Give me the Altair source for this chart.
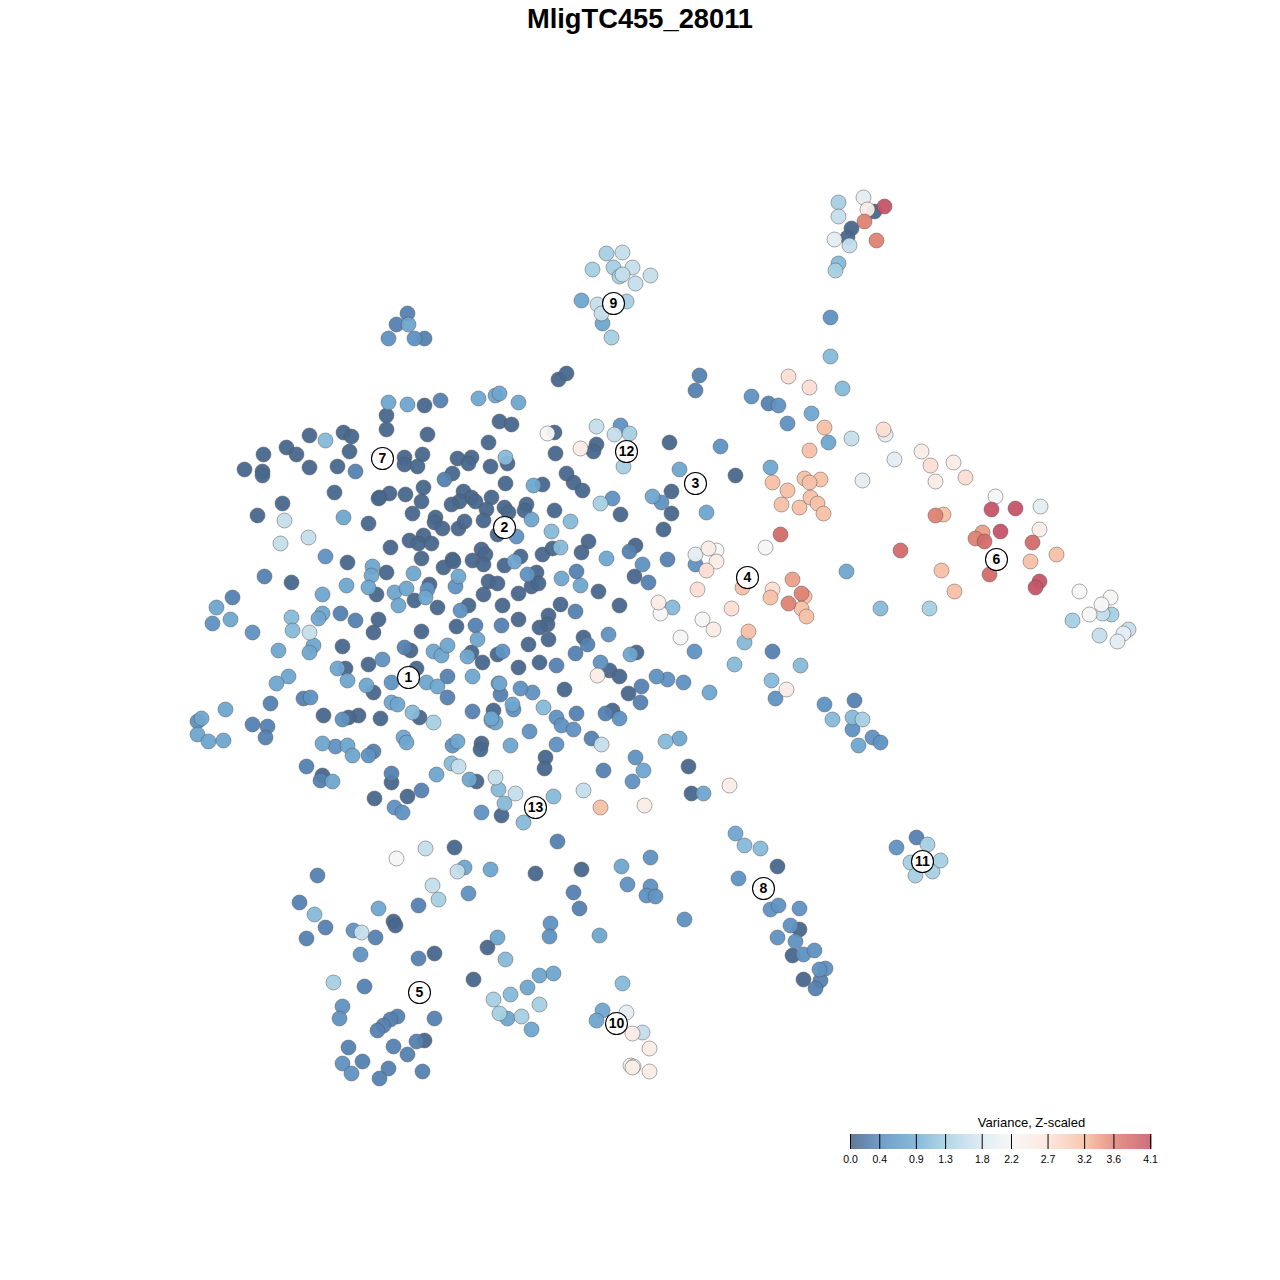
import altair as alt
import numpy as np
import pandas as pd

TITLE = "MligTC455_28011"
LEGEND_TITLE = "Variance, Z-scaled"
legend_ticks = [0.0, 0.4, 0.9, 1.3, 1.8, 2.2, 2.7, 3.2, 3.6, 4.1]
legend_colors = ["#456387", "#5a8cbe", "#74add3", "#a6cfe3", "#dbe9f2",
                 "#f6f6f6", "#fde3d8", "#f6bda2", "#df8374", "#c55567"]

v_005 = [(386,415),(386,429),(424,405),(427,434),(309,435),(343,432),(351,436),(263,454),(286,447),(296,454),
 (349,451),(404,457),(404,464),(422,454),(417,466),(457,458),(471,457),(468,463),(490,466),(244,469),
 (262,471),(262,475),(309,467),(337,466),(452,473),(488,442),(499,421),(511,424),(334,492),(389,493),
 (379,497),(378,498),(405,494),(423,487),(421,501),(463,491),(471,497),(459,501),(451,504),(475,501),
 (491,497),(486,509),(282,503),(257,515),(368,523),(412,513),(435,517),(434,522),(442,528),(458,528),
 (464,521),(483,520),(390,547),(409,540),(423,535),(418,543),(431,543),(421,558),(347,562),(386,572),
 (443,567),(452,559),(453,561),(472,560),(481,549),(485,554),(483,564),(291,582),(376,594),(429,584),
 (414,600),(488,581),(497,583),(483,594),(437,607),(468,605),(378,619),(373,632),(421,631),(456,626),
 (342,646),(410,650),(471,652),(482,662),(497,654),(368,664),(345,668),(416,668),(373,692),(323,715),
 (358,715),(348,717),(380,718),(419,717),(493,710),(481,743),(480,749),(322,775),(391,782),(476,781),
 (407,796),(374,798),(501,815),(505,483),(542,484),(573,482),(582,490),(504,507),(508,512),(526,504),
 (524,510),(554,510),(620,514),(671,491),(671,513),(663,529),(497,534),(520,556),(504,565),(542,554),
 (552,548),(588,541),(581,552),(635,545),(634,576),(502,605),(518,593),(536,572),(531,586),(538,583),
 (598,591),(560,604),(619,605),(548,615),(547,624),(539,627),(518,619),(548,639),(528,644),(583,637),
 (636,652),(518,667),(539,662),(609,670),(619,676),(564,689),(612,710),(558,379),(566,373),(555,453),
 (596,444),(593,451),(669,442),(507,463),(566,473),(735,475),(545,757),(544,768),(688,766),(691,793),
 (454,847),(535,873),(581,869),(393,921),(395,925),(487,947),(434,953),(424,1040),(777,866),(799,929),
 (792,955),(803,979),(851,228),(847,237),(874,211),(628,693),(473,979),(554,432)]
v_030 = [(440,400),(355,471),(444,479),(264,576),(232,597),(340,613),(355,620),(475,625),(501,625),(404,647),
 (447,676),(447,697),(270,703),(303,698),(472,711),(252,724),(267,726),(265,737),(306,766),(320,780),
 (391,773),(373,751),(421,790),(629,551),(667,559),(648,582),(576,571),(575,611),(587,644),(575,653),
 (556,665),(500,694),(641,686),(640,702),(576,713),(605,713),(591,738),(603,770),(699,375),(695,390),
 (768,403),(772,651),(557,841),(317,875),(573,892),(299,902),(418,905),(579,908),(325,927),(375,937),
 (306,938),(418,958),(364,986),(397,1016),(390,1019),(383,1025),(377,1030),(434,1018),(348,1047),(393,1046),
 (416,1041),(407,1054),(362,1061),(388,1068),(379,1078),(422,1071),(407,313),(396,324),(424,338),(820,980),
 (815,988),(916,837),(854,700)]
v_050 = [(325,556),(455,586),(427,589),(460,610),(212,623),(252,632),(382,659),(502,651),(391,682),(310,697),
 (342,719),(197,721),(335,746),(368,755),(452,745),(394,807),(402,812),(481,812),(612,498),(661,502),
 (516,536),(642,564),(527,574),(532,692),(520,688),(513,709),(556,717),(561,725),(573,729),(619,718),
 (529,731),(556,744),(635,757),(632,781),(751,396),(778,405),(787,423),(720,446),(620,425),(694,651),
 (683,682),(667,679),(656,676),(775,698),(468,893),(353,930),(360,954),(550,923),(549,936),(342,1006),
 (339,1018),(342,1063),(351,1073),(830,317),(388,338),(414,338),(738,878),(650,857),(627,884),(650,886),
 (646,895),(655,896),(684,919),(770,909),(778,905),(799,908),(790,925),(777,937),(795,941),(803,954),
 (814,950),(825,968),(819,969),(896,847),(824,704),(852,729),(872,737),(880,742),(608,634),(600,662),
 (695,564)]
v_080 = [(388,402),(407,404),(478,398),(495,395),(499,393),(518,402),(343,517),(372,566),(371,575),(413,573),
 (346,585),(368,587),(394,592),(406,588),(398,605),(425,597),(458,576),(322,594),(216,607),(230,619),
 (322,613),(318,618),(477,639),(278,650),(313,645),(309,652),(433,651),(441,655),(447,645),(467,656),
 (337,668),(288,676),(276,683),(347,680),(366,685),(426,682),(437,686),(472,676),(498,683),(391,702),
 (397,704),(225,709),(491,720),(495,722),(201,718),(197,734),(208,741),(223,740),(322,743),(347,745),
 (352,755),(403,737),(406,742),(457,741),(332,781),(436,774),(469,779),(533,485),(531,519),(652,496),
 (606,558),(514,561),(561,578),(580,585),(630,654),(499,683),(512,704),(491,718),(510,745),(679,738),
 (643,770),(703,793),(581,300),(602,323),(679,469),(770,467),(706,512),(811,413),(828,442),(846,571),
 (709,692),(464,867),(490,869),(378,908),(599,935),(497,937),(539,975),(553,973),(527,987),(507,1018),
 (531,1029),(602,1010),(596,1020),(621,866),(735,833),(408,324),(858,745)]
v_105 = [(325,440),(291,617),(292,630),(412,712),(451,763),(498,789),(505,457),(570,521),(551,531),(560,547),
 (543,707),(665,741),(504,803),(523,822),(553,796),(672,607),(744,642),(734,664),(800,665),(771,680),
 (880,608),(314,914),(505,959),(510,994),(622,983),(838,263),(830,356),(842,388),(744,845),(760,848),
 (832,719),(852,717)]
v_130 = [(433,722),(600,503),(623,466),(629,433),(333,982),(493,999),(499,1013),(521,1016),(539,1004),(592,269),
 (606,253),(613,267),(619,276),(611,337),(838,202),(835,270),(1072,620),(1111,614),(862,719),(910,862),
 (932,871),(915,875),(929,608),(438,899),(626,301),(927,844),(940,860)]
v_160 = [(284,520),(308,537),(280,543),(309,632),(458,766),(495,777),(515,793),(596,426),(614,434),(601,744),
 (583,790),(851,438),(425,848),(457,871),(432,885),(361,932),(622,252),(632,267),(650,275),(622,274),
 (635,283),(597,304),(601,313),(838,216),(849,245),(642,1032),(1128,629),(1102,613),(1099,635)]
v_195 = [(695,554),(885,434),(894,459),(862,480),(1040,506),(863,197),(834,239),(1123,633),(1117,641),(626,1012)]
v_220 = [(547,433),(660,613),(702,619),(680,637),(765,547),(396,858),(995,496),(1079,591),(1110,597),(1101,604),
 (1089,614),(716,550),(630,1065),(633,1066)]
v_245 = [(580,448),(708,548),(658,602),(713,629),(597,675),(786,689),(729,785),(644,805),(921,451),(953,462),
 (935,481),(1039,529),(867,209),(632,1033),(649,1048),(632,1067),(649,1071),(716,561)]
v_275 = [(788,376),(809,387),(706,570),(697,589),(772,589),(731,608),(883,429),(930,465),(965,477)]
v_315 = [(772,482),(787,490),(742,587),(770,597),(748,631),(600,807),(824,427),(809,450),(804,478),(820,479),
 (809,482),(781,504),(799,507),(810,497),(817,503),(823,513),(943,514),(1056,554),(1030,561),(941,570),
 (954,591),(804,596),(801,608),(806,616)]
v_340 = [(792,579),(982,532)]
v_360 = [(801,593),(788,603),(935,515),(975,538),(876,240),(864,221)]
v_385 = [(780,534),(900,550),(1032,542),(989,574),(984,541)]
v_410 = [(991,509),(1015,508),(1000,531),(1039,581),(1035,587),(884,206)]

levels = [(0.05, v_005), (0.3, v_030), (0.5, v_050), (0.8, v_080), (1.05, v_105), (1.3, v_130),
          (1.6, v_160), (1.95, v_195), (2.2, v_220), (2.45, v_245), (2.75, v_275), (3.15, v_315),
          (3.4, v_340), (3.6, v_360), (3.85, v_385), (4.1, v_410)]

cluster_ids = ["1","2","3","4","5","6","7","8","9","10","11","12","13"]
cluster_x = [408,504,695,747,419,996,382,763,613,616,922,626,535]
cluster_y = [677,527,483,577,992,559,458,888,303,1023,861,451,807]

points = pd.DataFrame([{"x": p[0], "y": p[1], "value": v} for v, pts in levels for p in pts])
clusters = pd.DataFrame({"x": cluster_x, "y": cluster_y, "label": cluster_ids})

X0, X1 = 850.0, 1150.0
scale_x = alt.Scale(domain=[7.5, 1271.5], nice=False, zero=False)
scale_y = alt.Scale(domain=[1271.5, 47.5], nice=False, zero=False)
color_scale = alt.Scale(domain=legend_ticks, range=legend_colors, clamp=True)
ax = dict(axis=None, scale=scale_x)
ay = dict(axis=None, scale=scale_y)

pts_layer = alt.Chart(points).mark_point(filled=True, size=225, opacity=0.95, stroke="#555555",
                                         strokeWidth=0.8, strokeOpacity=0.65).encode(
    x=alt.X("x:Q", **ax), y=alt.Y("y:Q", **ay),
    color=alt.Color("value:Q", scale=color_scale, legend=None),
    order=alt.Order("idx:Q"),
).transform_window(idx="row_number()")

circle_layer = alt.Chart(clusters).mark_point(filled=True, size=484, fill="white", stroke="black",
                                              strokeWidth=1.1, opacity=1).encode(
    x=alt.X("x:Q", **ax), y=alt.Y("y:Q", **ay))
text_layer = alt.Chart(clusters).mark_text(font="Liberation Sans", fontWeight="bold", fontSize=14,
                                           color="black", baseline="middle", align="center").encode(
    x=alt.X("x:Q", **ax), y=alt.Y("y:Q", **ay), text="label:N")

# Colour key, drawn through the same colour scale.
ramp_values = np.linspace(0, 4.1, 301)
ramp = pd.DataFrame({"value": ramp_values,
                     "x": X0 + ramp_values / 4.1 * (X1 - X0),
                     "x2": X0 + ramp_values / 4.1 * (X1 - X0) + 1.2,
                     "y": 1133.5, "y2": 1148.5})
ramp_layer = alt.Chart(ramp).mark_rect().encode(
    x=alt.X("x:Q", **ax), x2="x2:Q", y=alt.Y("y:Q", **ay), y2="y2:Q",
    color=alt.Color("value:Q", scale=color_scale, legend=None))

ticks = pd.DataFrame({"value": legend_ticks})
ticks["x"] = X0 + ticks["value"] / 4.1 * (X1 - X0)
ticks["y"] = 1133.5
ticks["y2"] = 1148.5
ticks["ly"] = 1159.0
ticks["label"] = ticks["value"].map(lambda v: f"{v:.1f}")
tick_layer = alt.Chart(ticks).mark_rule(color="black", strokeWidth=1).encode(
    x=alt.X("x:Q", **ax), y=alt.Y("y:Q", **ay), y2="y2:Q")
tick_text = alt.Chart(ticks).mark_text(font="Liberation Sans", fontSize=10.5, color="black",
                                       baseline="middle", align="center").encode(
    x=alt.X("x:Q", **ax), y=alt.Y("ly:Q", **ay), text="label:N")
legend_title = alt.Chart(pd.DataFrame({"x": [1031], "y": [1122], "t": [LEGEND_TITLE]})).mark_text(
    font="Liberation Sans", fontSize=13, color="black", baseline="middle", align="center").encode(
    x=alt.X("x:Q", **ax), y=alt.Y("y:Q", **ay), text="t:N")

chart = alt.layer(pts_layer, circle_layer, text_layer, ramp_layer, tick_layer, tick_text, legend_title).properties(
    width=1264, height=1224, background="white",
    padding={"left": 0, "top": 40, "right": 0, "bottom": 0},
    autosize=alt.AutoSizeParams(type="none"),
    title=alt.TitleParams(TITLE, font="Liberation Sans", fontSize=27.3, fontWeight="bold", color="black",
                          anchor="middle", offset=15),
).configure_view(strokeWidth=0, stroke="transparent")

chart.save("out.html", embed_options={"renderer": "svg", "actions": False})
